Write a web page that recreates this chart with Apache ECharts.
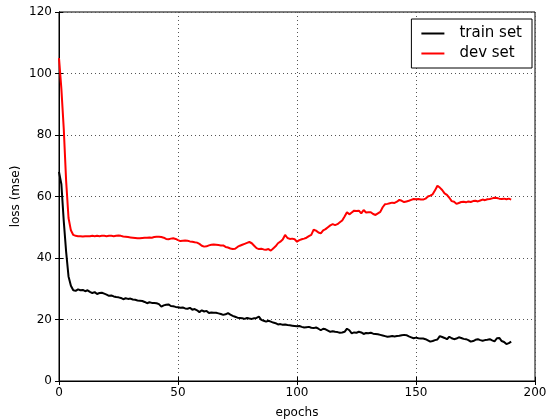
<!DOCTYPE html>
<html>
<head>
<meta charset="utf-8">
<script src="https://cdn.jsdelivr.net/npm/echarts@6/dist/echarts.min.js"></script>
<style>
html,body{margin:0;padding:0;background:#fff;}
#chart{width:549px;height:419px;}
</style>
</head>
<body>
<div id="chart"></div>
<script>
// Data (epochs 0..190)
const seriesNames = ['train set', 'dev set'];
const trainLoss = [
  68, 64, 52, 42, 34, 31, 29.5, 29.3, 29.8, 29.5,
  29.6, 29.2, 29.5, 29.0, 28.6, 28.9, 28.3, 28.6, 28.7, 28.4,
  28.1, 27.7, 27.8, 27.5, 27.3, 27.2, 27.0, 26.6, 26.9, 26.7,
  26.8, 26.5, 26.4, 26.2, 26.1, 26.0, 25.7, 25.3, 25.6, 25.4,
  25.4, 25.3, 25.0, 24.2, 24.6, 24.8, 24.9, 24.4, 24.3, 24.1,
  24.0, 23.8, 23.9, 23.6, 23.5, 23.8, 23.2, 23.4, 23.0, 22.4,
  23.0, 22.6, 22.8, 22.1, 22.3, 22.2, 22.2, 22.0, 21.8, 21.5,
  21.7, 22.1, 21.6, 21.2, 20.9, 20.6, 20.5, 20.4, 20.2, 20.5,
  20.3, 20.2, 20.4, 20.5, 20.9, 19.9, 19.6, 19.3, 19.6, 19.3,
  19.0, 18.8, 18.4, 18.5, 18.3, 18.4, 18.2, 18.1, 18.0, 17.9,
  17.8, 17.9, 17.6, 17.4, 17.5, 17.6, 17.3, 17.2, 17.4, 17.0,
  16.5, 17.0, 16.8, 16.4, 16.0, 16.2, 16.0, 15.9, 15.7, 15.8,
  16.0, 17.0, 16.5, 15.5, 15.8, 15.7, 16.0, 15.8, 15.3, 15.6,
  15.5, 15.7, 15.4, 15.3, 15.2, 15.0, 14.8, 14.6, 14.4, 14.5,
  14.6, 14.5, 14.6, 14.7, 14.9, 15.0, 14.9, 14.5, 14.2, 13.9,
  14.1, 13.9, 13.8, 13.8, 13.6, 13.2, 12.8, 13.0, 13.3, 13.5,
  14.6, 14.3, 14.0, 13.6, 14.4, 13.9, 13.6, 13.8, 14.2, 14.0,
  13.7, 13.6, 13.3, 12.8, 13.0, 13.4, 13.6, 13.3, 13.1, 13.3,
  13.4, 13.6, 13.2, 12.9, 13.9, 14.0, 13.0, 12.7, 12.0, 12.3,
  12.8
];
const devLoss = [
  105, 95, 82, 65, 53, 49, 47.5, 47.2, 47.1, 47.1,
  47.0, 47.1, 47.1, 47.1, 47.2, 47.1, 47.2, 47.1, 47.2, 47.2,
  47.1, 47.2, 47.2, 47.1, 47.2, 47.3, 47.2, 47.0, 46.9, 46.8,
  46.7, 46.6, 46.5, 46.4, 46.4, 46.5, 46.6, 46.6, 46.7, 46.6,
  46.8, 46.9, 46.9, 46.8, 46.6, 46.2, 46.1, 46.3, 46.4, 46.2,
  45.8, 45.5, 45.6, 45.7, 45.6, 45.4, 45.3, 45.1, 45.0, 44.6,
  44.0, 43.7, 43.8, 44.1, 44.3, 44.4, 44.3, 44.2, 44.1, 44.1,
  43.6, 43.4, 43.1, 42.9, 43.0, 43.6, 44.0, 44.3, 44.6, 44.9,
  45.2, 44.8, 44.0, 43.2, 42.9, 43.0, 42.8, 42.7, 42.9, 42.4,
  43.1, 43.8, 44.8, 45.3, 46.0, 47.5, 46.5, 46.2, 46.3, 46.1,
  45.3, 45.8, 46.1, 46.3, 46.6, 47.1, 47.5, 49.2, 48.9, 48.3,
  48.0, 49.0, 49.4, 50.0, 50.6, 51.0, 50.7, 51.0, 51.6, 52.2,
  53.5, 54.9, 54.2, 54.8, 55.4, 55.3, 55.4, 54.5, 55.6, 54.8,
  54.9, 54.9, 54.3, 54.0, 54.5, 55.0, 56.5, 57.5, 57.6, 57.8,
  58.0, 57.9, 58.3, 58.9, 58.6, 58.2, 58.4, 58.6, 58.9, 59.2,
  59.1, 59.2, 59.0, 59.0, 59.3, 60.0, 60.3, 60.7, 62.0, 63.5,
  62.9, 62.1, 61.0, 60.5, 59.6, 58.5, 58.3, 57.6, 57.9, 58.2,
  58.3, 58.1, 58.4, 58.2, 58.5, 58.6, 58.4, 58.7, 59.0, 58.8,
  59.1, 59.2, 59.4, 59.6, 59.5, 59.3, 59.2, 59.3, 59.1, 59.3,
  59.0
];
const xTicks = [0, 50, 100, 150, 200];
const yTicks = [0, 20, 40, 60, 80, 100, 120];

const toPairs = arr => arr.map((v, i) => [i, v]);
const FONT = 'DejaVu Sans';
const gridLine = { show: true, lineStyle: { color: '#555', type: [1, 3], width: 1 } };

const chart = echarts.init(document.getElementById('chart'), null, { renderer: 'canvas' });
chart.setOption({
  animation: false,
  backgroundColor: '#fff',
  textStyle: { fontFamily: FONT },
  grid: { left: 59, right: 14, top: 12, bottom: 38, outerBoundsMode: 'none', containLabel: false,
          show: true, borderColor: '#000', borderWidth: 1, backgroundColor: 'transparent' },
  legend: {
    data: seriesNames,
    orient: 'vertical',
    right: 17,
    top: 19,
    padding: [7, 10, 7, 10],
    itemGap: 5,
    itemWidth: 23,
    itemHeight: 2,
    icon: 'rect',
    borderColor: '#000',
    borderWidth: 1,
    backgroundColor: '#fff',
    textStyle: { fontFamily: FONT, fontSize: 15, color: '#000', lineHeight: 15, padding: [0, 0, 0, 10] }
  },
  xAxis: [{
    type: 'value', min: xTicks[0], max: xTicks[xTicks.length - 1], interval: 50,
    name: 'epochs', nameLocation: 'middle', nameGap: 26, nameMoveOverlap: false,
    nameTextStyle: { fontFamily: FONT, fontSize: 12, color: '#000' },
    axisLine: { show: true, lineStyle: { color: '#000' } },
    axisTick: { show: true, inside: true, length: 4, lineStyle: { color: '#000' } },
    axisLabel: { fontFamily: FONT, fontSize: 12, color: '#000', margin: 6 },
    splitLine: gridLine
  }, {
    type: 'value', position: 'top', min: xTicks[0], max: xTicks[xTicks.length - 1], interval: 50,
    axisLine: { show: true, lineStyle: { color: '#000' } },
    axisTick: { show: true, inside: true, length: 4, lineStyle: { color: '#000' } },
    axisLabel: { show: false }, splitLine: { show: false }
  }],
  yAxis: [{
    type: 'value', min: yTicks[0], max: yTicks[yTicks.length - 1], interval: 20,
    name: 'loss (mse)', nameLocation: 'middle', nameGap: 37, nameRotate: 90, nameMoveOverlap: false,
    nameTextStyle: { fontFamily: FONT, fontSize: 12, color: '#000' },
    axisLine: { show: true, lineStyle: { color: '#000' } },
    axisTick: { show: true, inside: true, length: 4, lineStyle: { color: '#000' } },
    axisLabel: { fontFamily: FONT, fontSize: 12, color: '#000', margin: 7 },
    splitLine: gridLine
  }, {
    type: 'value', position: 'right', min: yTicks[0], max: yTicks[yTicks.length - 1], interval: 20,
    axisLine: { show: true, lineStyle: { color: '#000' } },
    axisTick: { show: true, inside: true, length: 4, lineStyle: { color: '#000' } },
    axisLabel: { show: false }, splitLine: { show: false }
  }],
  series: [{
    name: seriesNames[0], type: 'line', data: toPairs(trainLoss),
    showSymbol: false, symbol: 'none', color: '#000',
    lineStyle: { color: '#000', width: 2 }
  }, {
    name: seriesNames[1], type: 'line', data: toPairs(devLoss),
    showSymbol: false, symbol: 'none', color: '#ff0000',
    lineStyle: { color: '#ff0000', width: 2 }
  }]
});
</script>
</body>
</html>
